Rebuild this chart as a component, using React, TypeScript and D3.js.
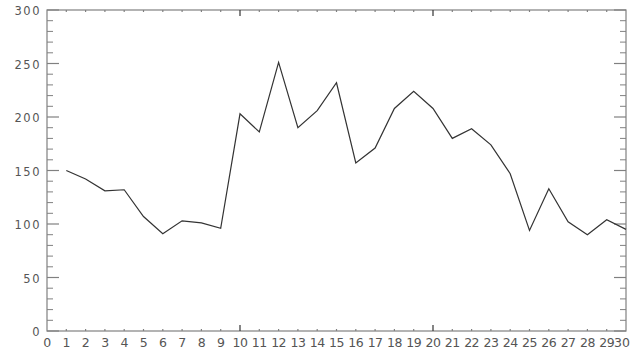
import React from "react";
import * as d3 from "d3";

const days = [1,2,3,4,5,6,7,8,9,10,11,12,13,14,15,16,17,18,19,20,21,22,23,24,25,26,27,28,29,30];
const values = [150,142,131,132,107,91,103,101,96,203,186,251,190,206,232,157,171,208,224,208,180,189,174,147,94,133,102,90,104,95];
const xTickLabels = d3.range(0, 31).map(String);
const yTickValues = [0,50,100,150,200,250,300];

const W = 631, H = 351;
const left = 47, right = 626, top = 10, bottom = 331;

export default function App() {
  const x = d3.scaleLinear().domain([0, 30]).range([left, right]);
  const y = d3.scaleLinear().domain([0, 300]).range([bottom, top]);
  const line = d3.line<number>().x((_, i) => x(days[i])).y((d) => y(d));
  const axisColor = "#808080";
  const textColor = "#555";
  const minorY = d3.range(0, 301, 10).filter((v) => v % 50 !== 0);
  const xt = d3.range(1, 30);
  return (
    <svg width={W} height={H} style={{ position: "absolute", left: 0, top: 0, background: "#fff" }}>
      <rect x={left} y={top} width={right - left} height={bottom - top} fill="none" stroke={axisColor} strokeWidth={1.2} />
      {yTickValues.map((v) => (
        <g key={"ym" + v}>
          <line x1={left} x2={left + 12} y1={y(v)} y2={y(v)} stroke={axisColor} strokeWidth={1.2} />
          <line x1={right} x2={right - 12} y1={y(v)} y2={y(v)} stroke={axisColor} strokeWidth={1.2} />
          <text x={41} y={y(v)} dy="0.45em" textAnchor="end" fontFamily="DejaVu Sans, sans-serif" fontSize={11.5} fill={textColor} letterSpacing={1.5}>{v}</text>
        </g>
      ))}
      {minorY.map((v) => (
        <g key={"yn" + v}>
          <line x1={left} x2={left + 6} y1={y(v)} y2={y(v)} stroke={axisColor} strokeWidth={1} />
          <line x1={right} x2={right - 6} y1={y(v)} y2={y(v)} stroke={axisColor} strokeWidth={1} />
        </g>
      ))}
      {xt.map((v) => {
        const len = v % 10 === 0 ? 6 : 2;
        return (
          <g key={"xt" + v}>
            <line x1={x(v)} x2={x(v)} y1={bottom} y2={bottom - len} stroke={v % 10 === 0 ? "#333" : axisColor} strokeWidth={1.2} />
            <line x1={x(v)} x2={x(v)} y1={top} y2={top + len} stroke={v % 10 === 0 ? "#333" : axisColor} strokeWidth={1.2} />
          </g>
        );
      })}
      {xTickLabels.map((t, i) => {
        const last = i === xTickLabels.length - 1;
        return (
          <text key={"xl" + i} x={last ? W - 1 : x(i)} y={347} textAnchor={last ? "end" : "middle"} fontFamily="DejaVu Sans, sans-serif" fontSize={12.5} fill={textColor} letterSpacing={last ? 0 : -0.5}>{t}</text>
        );
      })}
      <path d={line(values) || ""} fill="none" stroke="#333" strokeWidth={1.2} />
    </svg>
  );
}
